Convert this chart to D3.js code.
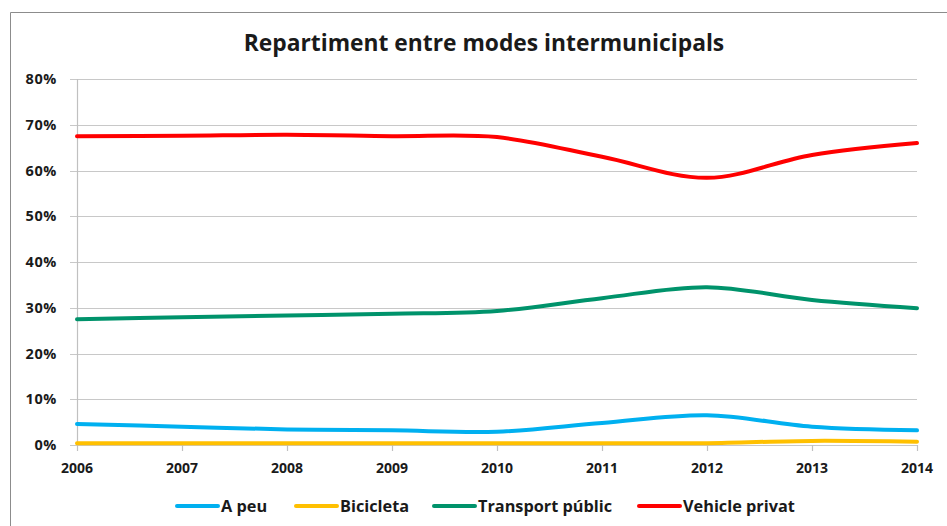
<!DOCTYPE html>
<html>
<head>
<meta charset="utf-8">
<script src="https://cdn.jsdelivr.net/npm/d3@7"></script>
<style>
  body { margin: 0; background: #fff; }
  text { font-family: "Open Sans", "DejaVu Sans", sans-serif; font-weight: bold; fill: #1a1a1a; }
</style>
</head>
<body>
<div id="chart"></div>
<script>
// data
const years = [2006, 2007, 2008, 2009, 2010, 2011, 2012, 2013, 2014];
const aPeu = [4.6, 4.0, 3.4, 3.2, 2.9, 4.8, 6.5, 4.0, 3.2];
const bicicleta = [0.4, 0.4, 0.4, 0.4, 0.4, 0.4, 0.4, 0.9, 0.7];
const transportPublic = [27.5, 27.9, 28.3, 28.7, 29.3, 32.1, 34.5, 31.7, 29.9];
const vehiclePrivat = [67.5, 67.6, 67.8, 67.5, 67.3, 63.0, 58.4, 63.4, 66.0];
const yTicks = [0, 10, 20, 30, 40, 50, 60, 70, 80];

const series = [
  { name: "A peu", values: aPeu, color: "#00b0f0" },
  { name: "Bicicleta", values: bicicleta, color: "#ffc000" },
  { name: "Transport públic", values: transportPublic, color: "#00936b" },
  { name: "Vehicle privat", values: vehiclePrivat, color: "#ff0000" },
];

//size
const width = 947;
const height = 526;
const margin = { top: 79, right: 30, bottom: 81, left: 77 };
const innerWidth = width - margin.left - margin.right;
const innerHeight = height - margin.top - margin.bottom;

//scale
const x = d3.scaleLinear().domain([2006, 2014]).range([0, innerWidth]);
const y = d3.scaleLinear().domain([0, 80]).range([innerHeight, 0]);

const svg = d3.select("#chart").append("svg")
  .attr("width", width).attr("height", height);

//frame
svg.append("path")
  .attr("d", `M10.5,${height} V12.5 H${width}`)
  .attr("fill", "none").attr("stroke", "#8c8c8c").attr("stroke-width", 1);

svg.append("text")
  .attr("x", 484).attr("y", 51)
  .attr("text-anchor", "middle")
  .attr("font-size", 22.8)
  .text("Repartiment entre modes intermunicipals");

const g = svg.append("g").attr("transform", `translate(${margin.left},${margin.top})`);

//grid
g.selectAll("line.grid").data(yTicks)
  .join("line")
  .attr("class", "grid")
  .attr("x1", -7).attr("x2", innerWidth)
  .attr("y1", d => Math.round(y(d)) + 0.5).attr("y2", d => Math.round(y(d)) + 0.5)
  .attr("stroke", "#c8c8c8").attr("stroke-width", 1.2);

//y axis
g.append("line")
  .attr("x1", 0.5).attr("x2", 0.5).attr("y1", 0).attr("y2", innerHeight)
  .attr("stroke", "#c0c0c0").attr("stroke-width", 1.2);

g.selectAll("text.ylab").data(yTicks)
  .join("text")
  .attr("class", "ylab")
  .attr("x", -20).attr("y", d => y(d) + 5)
  .attr("text-anchor", "end")
  .attr("font-size", 14.5)
  .attr("letter-spacing", 0.6)
  .text(d => d + "%");

//x axis
g.selectAll("line.xtick").data(years)
  .join("line")
  .attr("class", "xtick")
  .attr("x1", d => Math.round(x(d)) + 0.5).attr("x2", d => Math.round(x(d)) + 0.5)
  .attr("y1", innerHeight).attr("y2", innerHeight + 6)
  .attr("stroke", "#c0c0c0").attr("stroke-width", 1.2);

g.selectAll("text.xlab").data(years)
  .join("text")
  .attr("class", "xlab")
  .attr("x", d => x(d)).attr("y", innerHeight + 28)
  .attr("text-anchor", "middle")
  .attr("font-size", 14)
  .text(d => d);

//lines
const line = d3.line()
  .x((d, i) => x(years[i]))
  .y(d => y(d))
  .curve(d3.curveCatmullRom.alpha(0.5));

g.selectAll("path.series").data(series)
  .join("path")
  .attr("class", "series")
  .attr("fill", "none")
  .attr("stroke", d => d.color)
  .attr("stroke-width", 4)
  .attr("stroke-linecap", "round")
  .attr("d", d => line(d.values));

//legend
const legendX = [177, 296, 434, 639];
const legend = svg.selectAll("g.legend").data(series)
  .join("g")
  .attr("class", "legend")
  .attr("transform", (d, i) => `translate(${legendX[i]},506)`);

legend.append("line")
  .attr("x1", 0).attr("x2", 41)
  .attr("stroke", d => d.color).attr("stroke-width", 4)
  .attr("stroke-linecap", "round");

legend.append("text")
  .attr("x", 44).attr("y", 6)
  .attr("font-size", 16.3)
  .text(d => d.name);
</script>
</body>
</html>
